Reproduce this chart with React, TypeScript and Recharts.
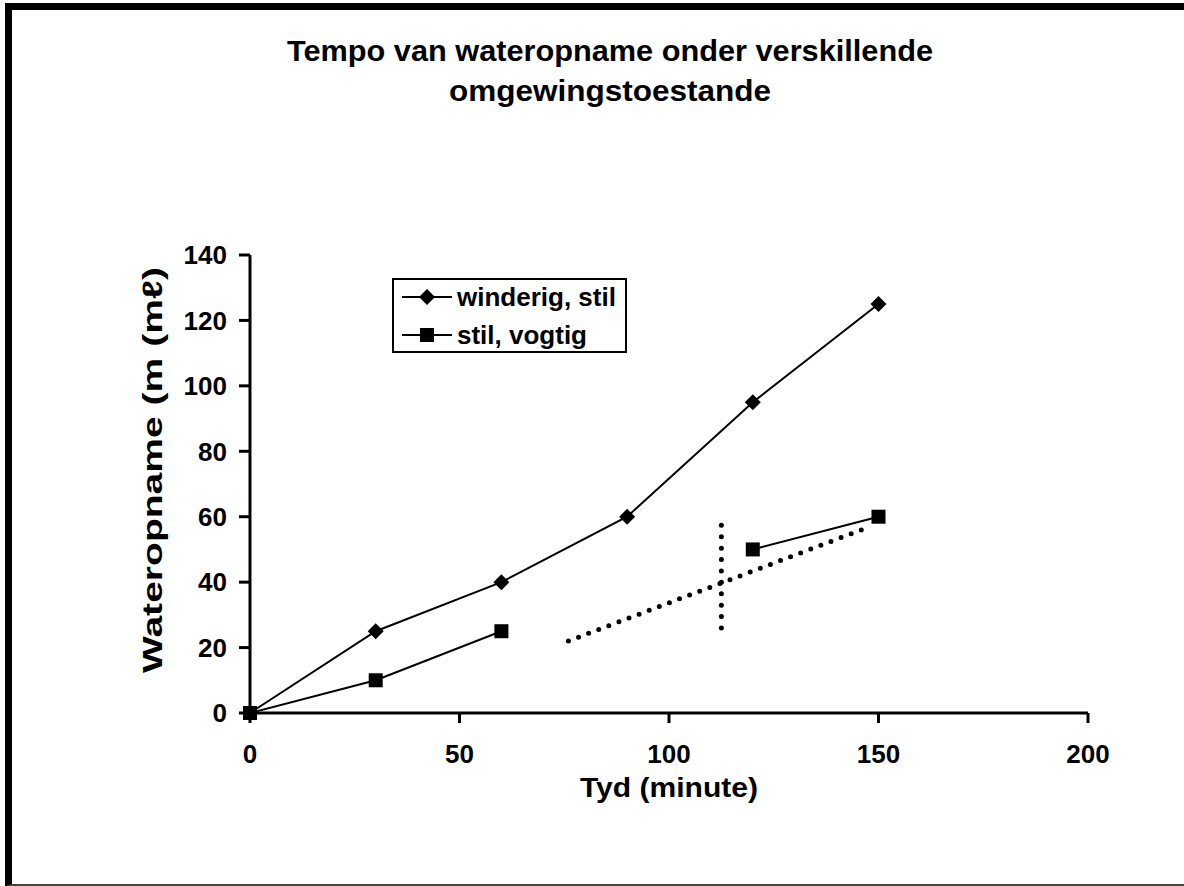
import { LineChart, Line, XAxis, YAxis, Legend, ReferenceLine } from 'recharts';

const minutes = [0, 30, 60, 90, 120, 150];
const windyStill = [0, 25, 40, 60, 95, 125];
const stillHumid = [0, 10, 25, null, 50, 60];
const seriesOrder = ['windy', 'humid'];
const xTicks = [0, 50, 100, 150, 200];
const yTicks = [0, 20, 40, 60, 80, 100, 120, 140];
// hand-drawn dotted guide lines (data coordinates)
const trendSegment = [{ x: 76, y: 22 }, { x: 148, y: 57 }];
const markerSegment = [{ x: 112.5, y: 26 }, { x: 112.5, y: 57.5 }];

const data = minutes.map((m, i) => ({ minute: m, windy: windyStill[i], humid: stillHumid[i] }));

const FONT = '"Liberation Sans", Arial, sans-serif';
const tickStyle = { fill: '#000', fontSize: 26, fontWeight: 700, fontFamily: FONT };

const diamondPath = (cx: number, cy: number) =>
  `M${cx},${cy - 8}L${cx + 8},${cy}L${cx},${cy + 8}L${cx - 8},${cy}Z`;

const DiamondDot = (props: any) => {
  const { cx, cy, index, value } = props;
  if (cx == null || cy == null || value == null) return <g key={`dd-${index}`} />;
  return <path key={`dd-${index}`} d={diamondPath(cx, cy)} fill="#000" />;
};

const SquareDot = (props: any) => {
  const { cx, cy, index, value } = props;
  if (cx == null || cy == null || value == null) return <g key={`sd-${index}`} />;
  return <rect key={`sd-${index}`} x={cx - 7} y={cy - 7} width={14} height={14} fill="#000" />;
};

const LegendBox = ({ payload }: any) => {
  const items = [...(payload || [])].sort(
    (a: any, b: any) => seriesOrder.indexOf(a.dataKey) - seriesOrder.indexOf(b.dataKey)
  );
  return (
    <div style={{ border: '2px solid #000', background: '#fff', width: 235, height: 75, boxSizing: 'border-box' }}>
      <svg width={231} height={71}>
        {items.map((p: any, i: number) => {
          const cy = 17 + i * 38;
          return (
            <g key={p.value}>
              <line x1={8} x2={58} y1={cy} y2={cy} stroke="#000" strokeWidth={2} />
              {p.dataKey === 'windy' ? (
                <path d={diamondPath(33, cy)} fill="#000" />
              ) : (
                <rect x={26} y={cy - 7} width={14} height={14} fill="#000" />
              )}
              <text x={63} y={cy + 9} fontSize={26} fontWeight={700} fontFamily={FONT} fill="#000">
                {p.value}
              </text>
            </g>
          );
        })}
      </svg>
    </div>
  );
};

export default function App() {
  return (
    <div style={{ position: 'absolute', left: 0, top: 0, width: 1184, height: 886, background: '#fff' }}>
      <div
        style={{
          position: 'absolute',
          left: 5,
          top: 3,
          width: 1179,
          height: 883,
          boxSizing: 'border-box',
          borderLeft: '7px solid #000',
          borderTop: '7px solid #000',
          borderBottom: '2px solid #444',
        }}
      />
      <div style={{ position: 'absolute', left: 0, top: 0 }}>
        <LineChart width={1184} height={886} data={data} margin={{ top: 255, right: 96, bottom: 73, left: 0 }}>
          <XAxis
            type="number"
            dataKey="minute"
            domain={[0, 200]}
            ticks={xTicks}
            height={100}
            axisLine={{ stroke: '#000', strokeWidth: 3 }}
            tickLine={{ stroke: '#000', strokeWidth: 3 }}
            tickSize={10}
            tickMargin={22}
            tick={tickStyle}
          />
          <YAxis
            type="number"
            domain={[0, 140]}
            ticks={yTicks}
            width={250}
            axisLine={{ stroke: '#000', strokeWidth: 3 }}
            tickLine={{ stroke: '#000', strokeWidth: 3 }}
            tickSize={11}
            tickMargin={12}
            tick={tickStyle}
          />
          <Legend
            layout="vertical"
            align="center"
            verticalAlign="middle"
            content={LegendBox}
            wrapperStyle={{ left: 392, top: 278, width: 235, height: 75 }}
          />
          <ReferenceLine
            segment={trendSegment}
            stroke="#000"
            strokeWidth={5}
            strokeDasharray="0 10.8"
            strokeLinecap="round"
          />
          <ReferenceLine
            segment={markerSegment}
            stroke="#000"
            strokeWidth={5}
            strokeDasharray="0 11.4"
            strokeLinecap="round"
          />
          <Line
            type="linear"
            dataKey="windy"
            name="winderig, stil"
            stroke="#000"
            strokeWidth={2}
            dot={DiamondDot}
            activeDot={false}
            isAnimationActive={false}
          />
          <Line
            type="linear"
            dataKey="humid"
            name="stil, vogtig"
            stroke="#000"
            strokeWidth={2}
            dot={SquareDot}
            activeDot={false}
            connectNulls={false}
            isAnimationActive={false}
          />
        </LineChart>
      </div>
      <svg
        width={1184}
        height={886}
        style={{ position: 'absolute', left: 0, top: 0, pointerEvents: 'none' }}
        fontFamily={FONT}
        fontWeight={700}
        fill="#000"
      >
        <text x={610} y={61} fontSize={30} textAnchor="middle" textLength={646} lengthAdjust="spacingAndGlyphs">
          Tempo van wateropname onder verskillende
        </text>
        <text x={610} y={101} fontSize={30} textAnchor="middle" textLength={322} lengthAdjust="spacingAndGlyphs">
          omgewingstoestande
        </text>
        <text x={669} y={797} fontSize={28} textAnchor="middle" textLength={178} lengthAdjust="spacingAndGlyphs">
          Tyd (minute)
        </text>
        <text
          x={0}
          y={0}
          fontSize={28}
          textAnchor="middle"
          textLength={406}
          lengthAdjust="spacingAndGlyphs"
          transform="translate(162,470) rotate(-90)"
        >
          Wateropname (m  (mℓ)
        </text>
      </svg>
    </div>
  );
}
